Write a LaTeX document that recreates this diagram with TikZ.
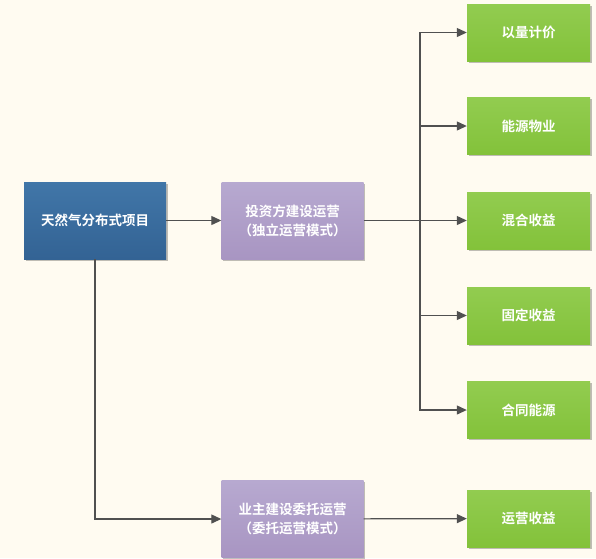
\documentclass[tikz,border=0pt]{standalone}
\usepackage{fontspec}
\newfontfamily\cjk[UprightFont={* Bold}]{Noto Sans CJK SC}
\usetikzlibrary{arrows.meta,shadows}
\definecolor{bg}{HTML}{FFFBF1}
\definecolor{blueA}{HTML}{4176A8}
\definecolor{blueB}{HTML}{336394}
\definecolor{purA}{HTML}{B7A9D0}
\definecolor{purB}{HTML}{A895C2}
\definecolor{grnA}{HTML}{92CC50}
\definecolor{grnB}{HTML}{83C23A}
\definecolor{lineC}{HTML}{505050}
\tikzset{
  box/.style={minimum width=142pt,minimum height=77pt,inner sep=0pt,align=center,
    text=white,font=\cjk\fontsize{13.5}{19}\selectfont,
    drop shadow={shadow xshift=1.5pt,shadow yshift=-1.5pt,opacity=0.25,fill=black}},
  bluebox/.style={box,top color=blueA,bottom color=blueB},
  purbox/.style={box,top color=purA,bottom color=purB},
  grnbox/.style={box,minimum width=123pt,minimum height=57pt,top color=grnA,bottom color=grnB},
  conn/.style={draw=lineC,line width=1.2pt,-{Triangle[length=10pt,width=9pt]}},
  plain/.style={draw=lineC,line width=1.2pt}
}
\begin{document}
\begin{tikzpicture}[x=1pt,y=-1pt]
\fill[bg] (0,0) rectangle (596,558);
\useasboundingbox (0,0) rectangle (596,558);
\node[bluebox] (src) at (95,220.5) {天然气分布式项目};
\node[purbox] (p1) at (292.5,220.5) {投资方建设运营\\（独立运营模式）};
\node[purbox] (p2) at (292.5,519) {业主建设委托运营\\（委托运营模式）};
\node[grnbox] (g1) at (528.5,32.5) {以量计价};
\node[grnbox] (g2) at (528.5,126) {能源物业};
\node[grnbox] (g3) at (528.5,220.5) {混合收益};
\node[grnbox] (g4) at (528.5,315.5) {固定收益};
\node[grnbox] (g5) at (528.5,410) {合同能源};
\node[grnbox] (g6) at (528.5,518.5) {运营收益};
\coordinate (tr) at (420,220.5);
\draw[conn] (src) -- (p1);
\draw[plain] (p1) -- (tr);
\draw[conn] (tr) |- (g1);
\draw[conn] (tr) |- (g2);
\draw[conn] (tr) -- (g3);
\draw[conn] (tr) |- (g4);
\draw[conn] (tr) |- (g5);
\draw[conn] (src) |- (p2);
\draw[conn] (p2) -- (g6);
\end{tikzpicture}
\end{document}
